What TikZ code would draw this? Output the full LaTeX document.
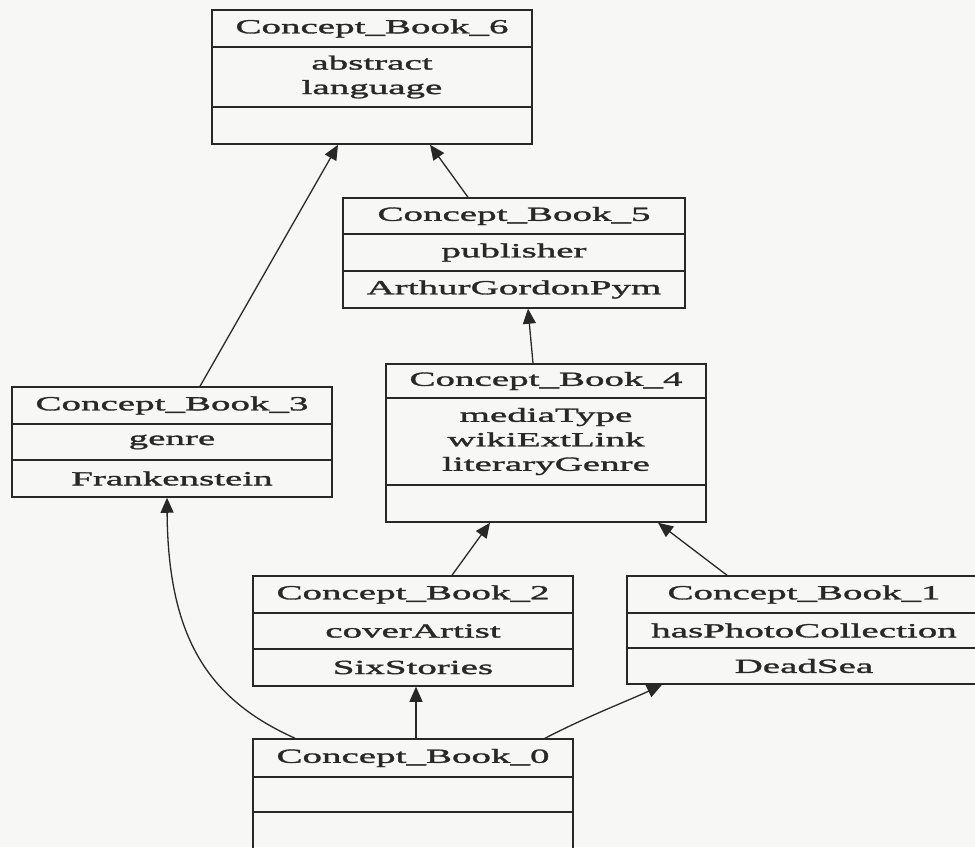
\documentclass[tikz,border=0pt]{standalone}
\usepackage{fontspec}
\setmainfont{Liberation Serif}[FakeStretch=1.95,FakeBold=1.6]
\usetikzlibrary{arrows.meta,fit}
\definecolor{bgc}{RGB}{247,247,246}
\definecolor{ink}{RGB}{40,40,40}
\tikzset{
  boxframe/.style={draw=ink, line width=1.5pt, inner sep=0pt, rectangle},
  divider/.style={draw=ink, line width=1.3pt},
  txt/.style={text=ink, inner sep=0pt, align=center, font=\fontsize{20}{24.5}\selectfont},
  arr/.style={draw=ink, line width=1.3pt, -{Triangle[length=15pt,width=13pt]}}
}
% name, left, top, right, y1, y2, bottom, header, attrs
\newcommand\umlbox[9]{%
  \node[boxframe, fit={(#2,#3) (#4,#7)}] (#1) {};
  \draw[divider] (#1.west |- 0,#5) -- (#1.east |- 0,#5);
  \draw[divider] (#1.west |- 0,#6) -- (#1.east |- 0,#6);
  \node[txt] (#1-h) at ({(#2+#4)/2},{(#3+#5)/2}) {#8};
  \node[txt] (#1-a) at ({(#2+#4)/2},{(#5+#6)/2}) {#9};
}
\begin{document}
\begin{tikzpicture}[x=1pt,y=-1pt]
\path[fill=bgc] (0,0) rectangle (975,847);
\useasboundingbox (0,0) rectangle (975,847);

\umlbox{b6}{212}{10}{532}{47}{107}{144}{Concept\_Book\_6}{abstract\\language}
\umlbox{b5}{343}{198}{685}{234}{271}{308}{Concept\_Book\_5}{publisher}
\node[txt] (b5-m) at (514,289.5) {ArthurGordonPym};
\umlbox{b3}{12}{387}{332}{424}{460}{497}{Concept\_Book\_3}{genre}
\node[txt] (b3-m) at (172,478.5) {Frankenstein};
\umlbox{b4}{386}{364}{706}{398}{485}{522}{Concept\_Book\_4}{mediaType\\wikiExtLink\\literaryGenre}
\umlbox{b2}{253}{576}{573}{613}{649}{686}{Concept\_Book\_2}{coverArtist}
\node[txt] (b2-m) at (413,667.5) {SixStories};
\umlbox{b1}{627}{576}{981}{613}{648}{684}{Concept\_Book\_1}{hasPhotoCollection}
\node[txt] (b1-m) at (804,666) {DeadSea};
\umlbox{b0}{253}{739}{573}{777}{812}{849}{Concept\_Book\_0}{}

\draw[arr] ([xshift=28pt]b3.north) -- ([xshift=-34pt]b6.south);
\draw[arr] ([xshift=-46pt]b5.north) -- ([xshift=58pt]b6.south);
\draw[arr] ([xshift=-13pt]b4.north) -- ([xshift=14pt]b5.south);
\draw[arr] ([xshift=39pt]b2.north) -- ([xshift=-56pt]b4.south);
\draw[arr] ([xshift=-77pt]b1.north) -- ([xshift=112pt]b4.south);
\draw[arr] ([xshift=-118pt]b0.north) .. controls (210,700) and (168,640) .. ([xshift=-5pt]b3.south);
\draw[arr] ([xshift=3pt]b0.north) -- ([xshift=3pt]b2.south);
\draw[arr] ([xshift=132pt]b0.north) .. controls (590,715) and (630,700) .. ([xshift=-142pt]b1.south);
\end{tikzpicture}
\end{document}
